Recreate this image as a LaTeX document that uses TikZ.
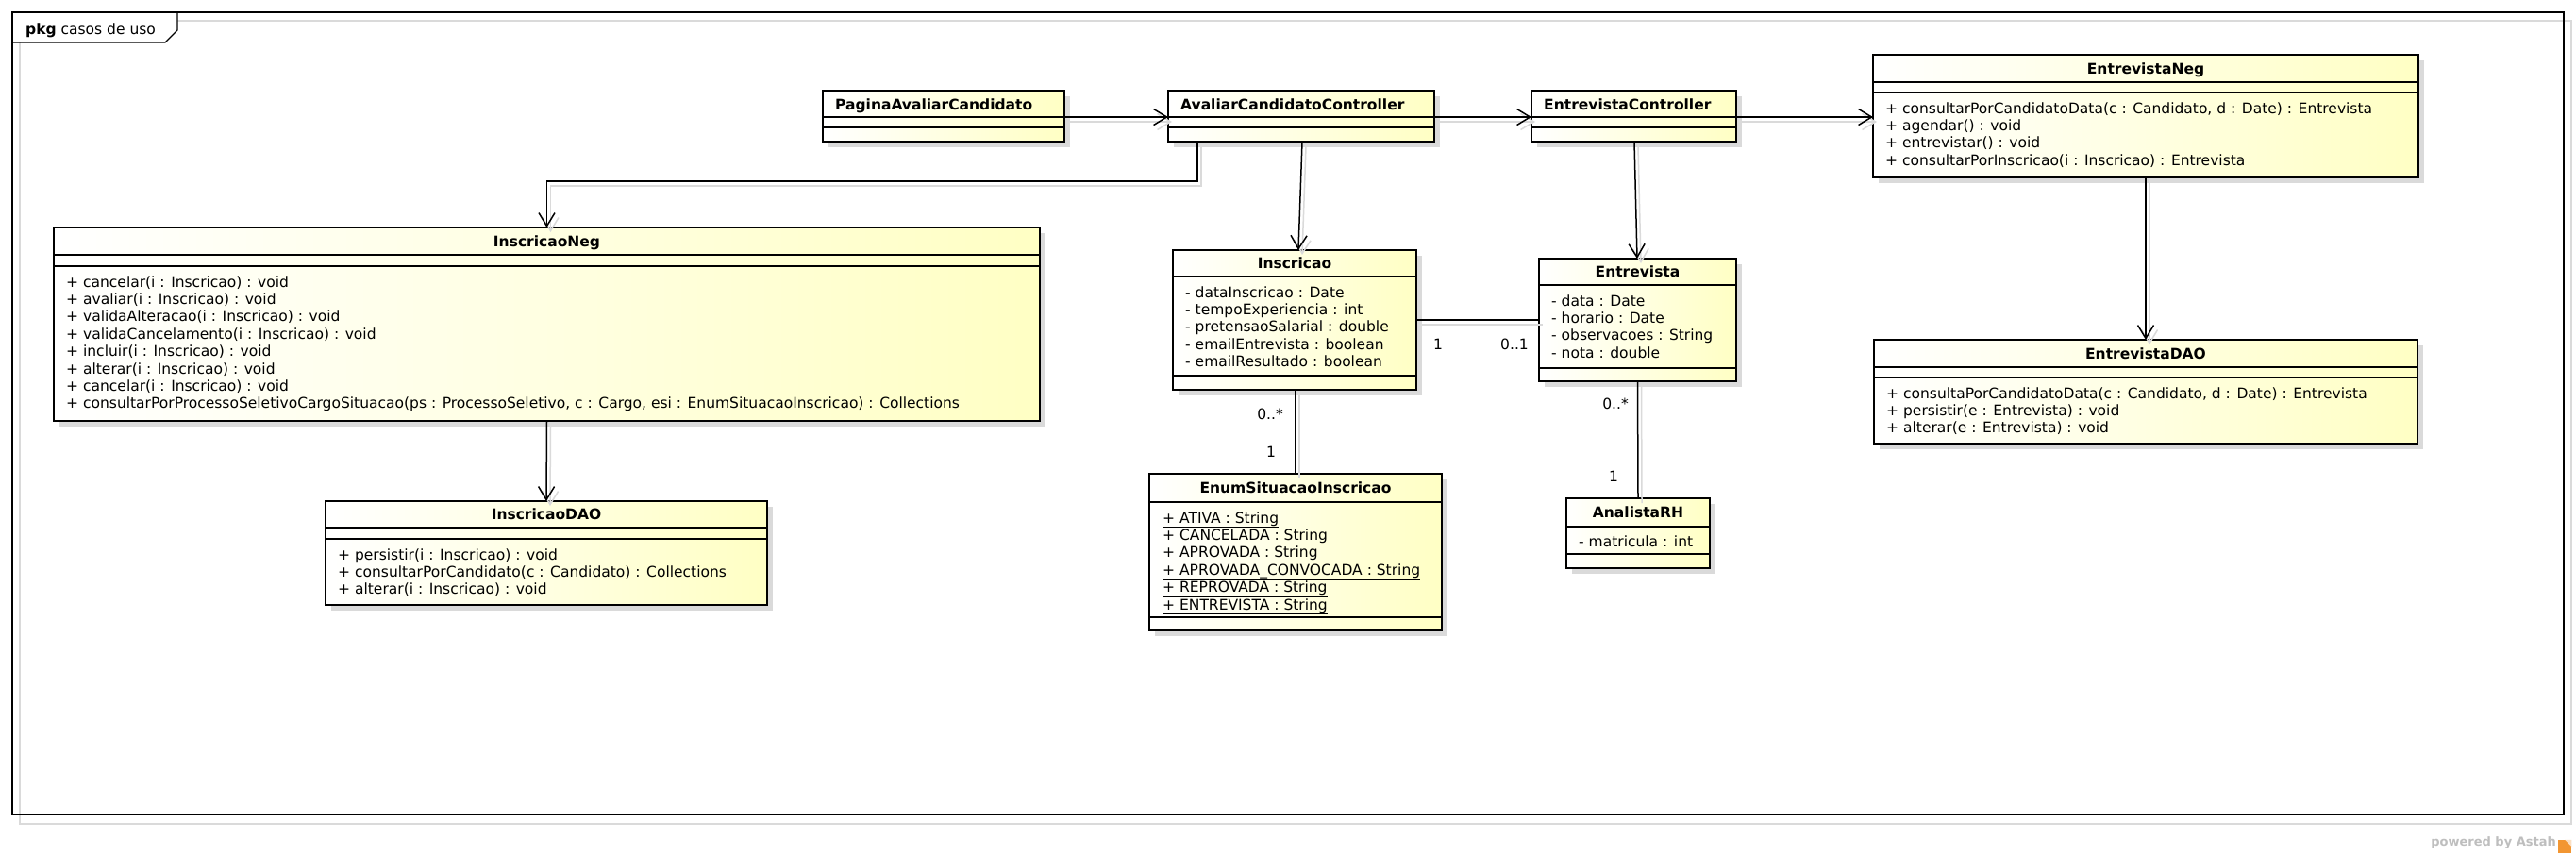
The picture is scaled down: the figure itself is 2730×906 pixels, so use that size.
\documentclass[tikz,border=0pt]{standalone}
\usepackage{fontspec}
\setmainfont{DejaVu Sans}
\usetikzlibrary{arrows.meta,shadows}
\definecolor{umly}{RGB}{255,255,196}
\definecolor{shd}{RGB}{218,218,218}
\definecolor{astahgray}{RGB}{190,190,190}
\definecolor{astahorange}{RGB}{242,150,50}
\tikzset{
  clsbox/.style={draw=black, line width=2.7pt, left color=white, right color=umly,
    inner sep=0pt, outer sep=0pt,
    drop shadow={shadow xshift=6pt, shadow yshift=-6pt, fill=shd, draw=none, opacity=1}},
  sepl/.style={line width=1.3pt},
  txt/.style={inner sep=0pt, font=\fontsize{15.5}{18.4}\selectfont},
  cname/.style={inner sep=0pt, font=\bfseries\fontsize{15.5}{18.4}\selectfont},
  mult/.style={inner sep=0pt, font=\fontsize{15.5}{18.4}\selectfont},
  conn/.style={line width=1.5pt,
    preaction={draw=shd, line width=1.5pt, transform canvas={shift={(4pt,-5pt)}}}},
  arr/.style={-{Straight Barb[length=14pt,width=17pt]}},
}
\newcommand\umlclass[5]{%
  \node[clsbox, anchor=north west, minimum width={(#4-#2)*1pt},
        minimum height={(#5-#3)*1pt}] (#1) at (#2,#3) {};}
\newcommand\umllines[4]{%
  \foreach \t [count=\i from 0] in {#4}{%
    \node[txt, anchor=base west] (#1\i) at (#2,{#3+\i*18.4}) {\t};}}
\begin{document}
\begin{tikzpicture}[x=1pt,y=-1pt]
\useasboundingbox (0,0) rectangle (2730,906);
\fill[white] (0,0) rectangle (2730,906);
% package frame
\draw[shd, line width=1.4pt] (21,22) rectangle (2725,873);
\fill[white] (13,13) -- (188,13) -- (188,32) -- (175,45) -- (13,45) -- cycle;
\draw[line width=1.4pt] (13,13) rectangle (2717,863);
\draw[line width=1.4pt] (13,45) -- (175,45) -- (188,32) -- (188,13);
\node[txt, anchor=base west] (pkgLabel) at (27,36) {\textbf{pkg} casos de uso};
% powered by
\node[inner sep=0pt, anchor=base east, text=astahgray,
      font=\bfseries\fontsize{13}{15}\selectfont] (powered) at (2709,896) {powered by Astah};
\node[fill=astahorange, minimum width=14pt, minimum height=14pt, inner sep=0pt,
      anchor=base west] (logo) at (2711,897) {};
\fill[white!70!astahorange] (logo.north east) -- (logo.north) -- (logo.east) -- cycle;

% ---- classes ----
\umlclass{pag}{872}{96}{1128}{150}
\draw[sepl] (872,124) -- (1128,124); \draw[sepl] (872,135) -- (1128,135);
\node[cname, anchor=base west] (pagName) at (885,116) {PaginaAvaliarCandidato};

\umlclass{acc}{1238}{96}{1520}{150}
\draw[sepl] (1238,124) -- (1520,124); \draw[sepl] (1238,135) -- (1520,135);
\node[cname, anchor=base west] (accName) at (1251,116) {AvaliarCandidatoController};

\umlclass{ec}{1623}{96}{1840}{150}
\draw[sepl] (1623,124) -- (1840,124); \draw[sepl] (1623,135) -- (1840,135);
\node[cname, anchor=base west] (ecName) at (1636,116) {EntrevistaController};

\umlclass{en}{1985}{58}{2563}{188}
\draw[sepl] (1985,87) -- (2563,87); \draw[sepl] (1985,98) -- (2563,98);
\node[cname, anchor=base] (enName) at (2274,78) {EntrevistaNeg};
\umllines{enOp}{1998}{120}{{+ consultarPorCandidatoData(c : Candidato, d : Date) : Entrevista},
  {+ agendar() : void}, {+ entrevistar() : void},
  {+ consultarPorInscricao(i : Inscricao) : Entrevista}}

\umlclass{in}{57}{241}{1102}{446}
\draw[sepl] (57,270) -- (1102,270); \draw[sepl] (57,282) -- (1102,282);
\node[cname, anchor=base] (inName) at (579.5,261) {InscricaoNeg};
\umllines{inOp}{70}{304}{{+ cancelar(i : Inscricao) : void},
  {+ avaliar(i : Inscricao) : void},
  {+ validaAlteracao(i : Inscricao) : void},
  {+ validaCancelamento(i : Inscricao) : void},
  {+ incluir(i : Inscricao) : void},
  {+ alterar(i : Inscricao) : void},
  {+ cancelar(i : Inscricao) : void},
  {+ consultarPorProcessoSeletivoCargoSituacao(ps : ProcessoSeletivo, c : Cargo, esi : EnumSituacaoInscricao) : Collections}}

\umlclass{idao}{345}{531}{813}{641}
\draw[sepl] (345,559) -- (813,559); \draw[sepl] (345,571) -- (813,571);
\node[cname, anchor=base] (idaoName) at (579,550.5) {InscricaoDAO};
\umllines{idaoOp}{358}{593}{{+ persistir(i : Inscricao) : void},
  {+ consultarPorCandidato(c : Candidato) : Collections},
  {+ alterar(i : Inscricao) : void}}

\umlclass{ins}{1243}{265}{1501}{413}
\draw[sepl] (1243,293) -- (1501,293); \draw[sepl] (1243,398) -- (1501,398);
\node[cname, anchor=base] (insName) at (1372,284.5) {Inscricao};
\umllines{insAt}{1256}{315}{{- dataInscricao : Date},
  {- tempoExperiencia : int},
  {- pretensaoSalarial : double},
  {- emailEntrevista : boolean},
  {- emailResultado : boolean}}

\umlclass{ent}{1631}{274}{1840}{404}
\draw[sepl] (1631,302) -- (1840,302); \draw[sepl] (1631,390) -- (1840,390);
\node[cname, anchor=base] (entName) at (1735.5,293.5) {Entrevista};
\umllines{entAt}{1644}{324}{{- data : Date},
  {- horario : Date},
  {- observacoes : String},
  {- nota : double}}

\umlclass{enm}{1218}{502}{1528}{668}
\draw[sepl] (1218,532) -- (1528,532); \draw[sepl] (1218,654) -- (1528,654);
\node[cname, anchor=base] (enmName) at (1373,522.5) {EnumSituacaoInscricao};
\umllines{enmAt}{1232}{554}{{\underline{+ ATIVA : String}},
  {\underline{+ CANCELADA : String}},
  {\underline{+ APROVADA : String}},
  {\underline{+ APROVADA\_CONVOCADA : String}},
  {\underline{+ REPROVADA : String}},
  {\underline{+ ENTREVISTA : String}}}

\umlclass{arh}{1660}{528}{1812}{602}
\draw[sepl] (1660,558) -- (1812,558); \draw[sepl] (1660,587) -- (1812,587);
\node[cname, anchor=base] (arhName) at (1736,548.5) {AnalistaRH};
\node[txt, anchor=base west] (arhAt0) at (1673,579) {- matricula : int};

\umlclass{edao}{1986}{360}{2562}{470}
\draw[sepl] (1986,389) -- (2562,389); \draw[sepl] (1986,400) -- (2562,400);
\node[cname, anchor=base] (edaoName) at (2274,380) {EntrevistaDAO};
\umllines{edaoOp}{1999}{422}{{+ consultaPorCandidatoData(c : Candidato, d : Date) : Entrevista},
  {+ persistir(e : Entrevista) : void},
  {+ alterar(e : Entrevista) : void}}

% ---- connectors ----
\draw[conn, arr] ([yshift=-1pt]pag.east) -- ([yshift=-1pt]acc.west);
\draw[conn, arr] ([yshift=-1pt]acc.east) -- ([yshift=-1pt]ec.west);
\draw[conn, arr] ([yshift=-1pt]ec.east) -- ([yshift=-1pt]ec.east -| en.west);
\draw[conn, arr] ([xshift=31pt]acc.south west) -- ++(0,42) -| (in.north);
\draw[conn, arr] ([xshift=142pt]acc.south west) -- ([xshift=133pt]ins.north west);
\draw[conn, arr] ([xshift=109pt]ec.south west) -- ([xshift=104pt]ent.north west);
\draw[conn, arr] (en.south) -- (edao.north);
\draw[conn, arr] (in.south) -- (idao.north);
\draw[conn] (ins.east) -- (ent.west);
\draw[conn] ([xshift=1pt]ins.south) -- (enm.north);
\draw[conn] (ent.south) -- (arh.north);

% multiplicities
\node[mult] (m1) at (1524,365) {1};
\node[mult] (m2) at (1605,365) {0..1};
\node[mult] (m3) at (1346,439) {0..*};
\node[mult] (m4) at (1347,479) {1};
\node[mult] (m5) at (1712,428) {0..*};
\node[mult] (m6) at (1710,505) {1};
\end{tikzpicture}
\end{document}
